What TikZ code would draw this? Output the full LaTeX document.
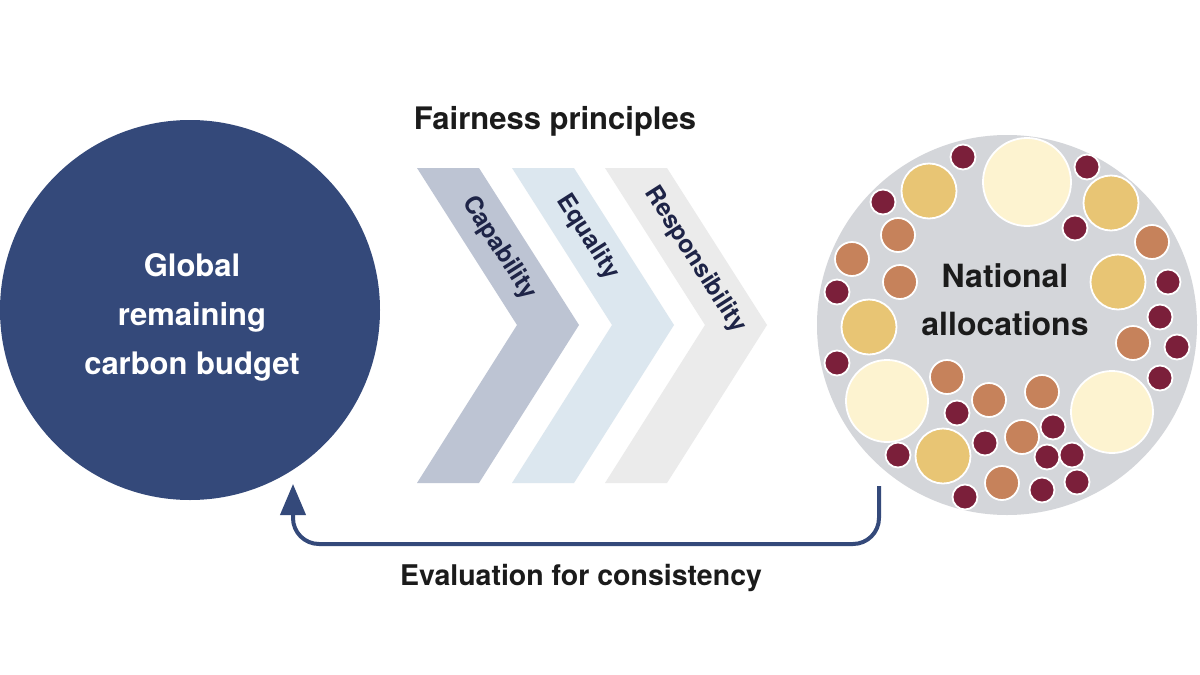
\documentclass[tikz,border=0pt]{standalone}
\usepackage{fontspec}
\setmainfont{TeX Gyre Heros}
\usetikzlibrary{arrows.meta}
\definecolor{navy}{HTML}{34497A}
\definecolor{chevA}{HTML}{BDC4D3}
\definecolor{chevB}{HTML}{DCE7EF}
\definecolor{chevC}{HTML}{EBEBEB}
\definecolor{bggray}{HTML}{D4D6DA}
\definecolor{pale}{HTML}{FDF3D0}
\definecolor{gold}{HTML}{E8C574}
\definecolor{brown}{HTML}{C6825B}
\definecolor{maroon}{HTML}{7B1F3A}
\definecolor{ink}{HTML}{1B1B1B}
\definecolor{chevink}{HTML}{1E2447}
\begin{document}
\begin{tikzpicture}[x=1pt,y=-1pt,
  bigtitle/.style={font=\bfseries\fontsize{29}{34}\selectfont, text=ink, inner sep=0pt},
  chevlabel/.style={font=\bfseries\fontsize{24.5}{28}\selectfont, text=chevink, rotate=-57.5, inner sep=0pt},
  dot/.style={draw=white, line width=1.8pt},
  arr/.style={draw=navy, line width=4pt, rounded corners=26pt, -{Triangle[length=31pt,width=25pt]}}]
\useasboundingbox (0,0) rectangle (1200,675);
\fill[white] (0,0) rectangle (1200,675);
% left circle
\node[circle, fill=navy, minimum size=380pt, inner sep=0pt] (gb) at (190,310) {};
\node[font=\bfseries\fontsize{31}{49}\selectfont, text=white, align=center] (gbt) at (192,317) {Global\\remaining\\carbon budget};
% title
\node[bigtitle, font=\bfseries\fontsize{31}{34}\selectfont] (fp) at (555,121) {Fairness principles};
% chevrons
\foreach \x/\c in {417/chevA,512/chevB,605/chevC}{
  \fill[\c] (\x,168) -- (\x+62,168) -- (\x+162,325) -- (\x+62,483) -- (\x,483) -- (\x+100,325) -- cycle;
}
\node[chevlabel] (cap) at (499,248) {Capability};
\node[chevlabel] (equ) at (588,237) {Equality};
\node[chevlabel] (res) at (695,260) {Responsibility};
% right circle
\node[circle, fill=bggray, minimum size=380pt, inner sep=0pt] (na) at (1007,325) {};
% pale
\foreach \p/\r in {{(1027,182)}/44,{(887,401)}/41,{(1112,412)}/41}
  \filldraw[dot, fill=pale] \p circle (\r);
% gold
\foreach \p in {{(929,191)},{(1111,203)},{(1118,282)},{(869,327)},{(943,456)}}
  \filldraw[dot, fill=gold] \p circle (27.5);
% brown
\foreach \p in {{(898,235)},{(852,259)},{(900,282)},{(1152,242)},{(1133,343)},{(947,377)},{(989,400)},{(1042,392)},{(1022,437)},{(1002,483)}}
  \filldraw[dot, fill=brown] \p circle (17);
% maroon
\foreach \p in {{(963,157)},{(1087,167)},{(883,202)},{(1075,228)},{(837,292)},{(1168,282)},{(1160,317)},{(1177,347)},{(837,363)},{(1160,378)},{(957,413)},{(1053,427)},{(985,443)},{(1047,457)},{(1072,455)},{(898,455)},{(1077,482)},{(1042,490)},{(965,497)}}
  \filldraw[dot, fill=maroon] \p circle (12.5);
\node[font=\bfseries\fontsize{32}{48}\selectfont, text=ink, align=center] (nat) at (1005,300) {National\\allocations};
% feedback arrow
\coordinate (s) at (879,486);
\coordinate (e) at (293,484);
\draw[arr] (s) -- ++(0,58) -| (e);
\node[bigtitle, font=\bfseries\fontsize{28.5}{34}\selectfont] (ev) at (581,578) {Evaluation for consistency};
\end{tikzpicture}
\end{document}
